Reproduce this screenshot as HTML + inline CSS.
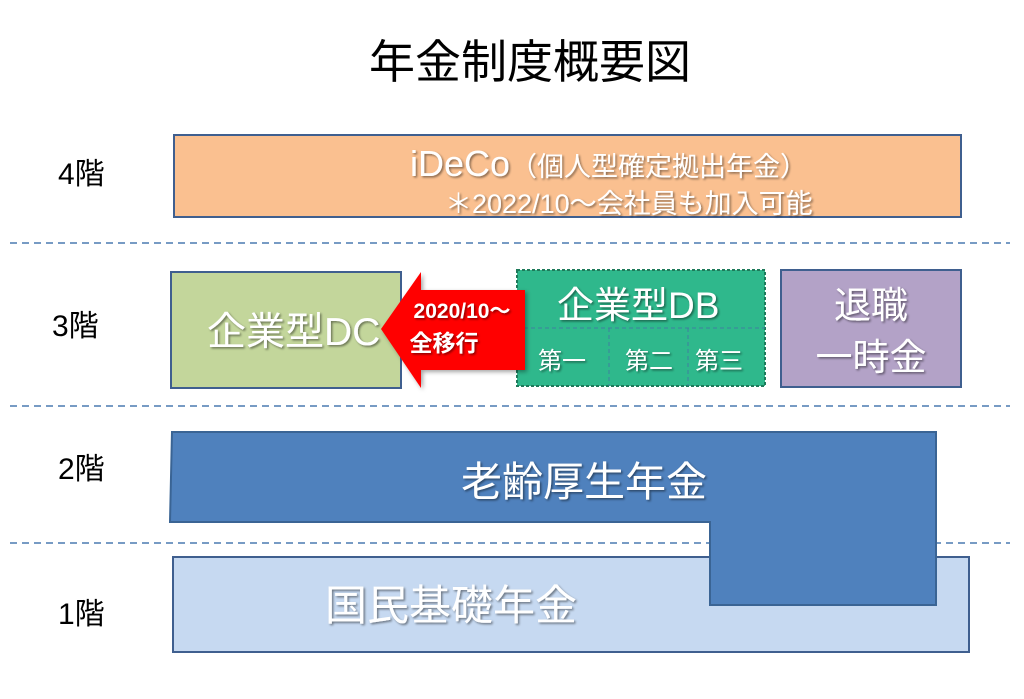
<!DOCTYPE html>
<html><head><meta charset="utf-8"><style>
html,body{margin:0;padding:0;background:#fff;}
svg{display:block;}
text{font-family:"Liberation Sans","Noto Sans CJK JP",sans-serif;}
.w{fill:#fff;filter:url(#sh);}
</style></head><body>
<svg width="1024" height="699" viewBox="0 0 1024 699" xmlns="http://www.w3.org/2000/svg">
<defs>
<filter id="sh" x="-10%" y="-20%" width="130%" height="150%"><feDropShadow dx="1.5" dy="1.5" stdDeviation="1" flood-color="#000" flood-opacity="0.45"/></filter>
<filter id="bs" x="-10%" y="-10%" width="130%" height="130%"><feDropShadow dx="2" dy="2" stdDeviation="2" flood-color="#000" flood-opacity="0.35"/></filter>
</defs>
<text x="530" y="78" font-size="46" text-anchor="middle" fill="#000">年金制度概要図</text>

<g stroke="#4a7ab0" stroke-width="1.5" stroke-dasharray="7,5">
<line x1="10" y1="243" x2="1010" y2="243"/>
<line x1="10" y1="406" x2="1010" y2="406"/>
<line x1="10" y1="543" x2="1010" y2="543"/>
</g>

<g font-size="30" fill="#000">
<text x="58" y="184">4階</text>
<text x="52" y="336">3階</text>
<text x="58" y="479">2階</text>
<text x="58" y="624">1階</text>
</g>

<rect x="174" y="135" width="787" height="82" fill="#fac090" stroke="#3f5f8f" stroke-width="2"/>
<text class="w" x="410" y="176" font-size="36">iDeCo<tspan font-size="27">（個人型確定拠出年金）</tspan></text>
<text class="w" x="445" y="213" font-size="27">＊2022/10～会社員も加入可能</text>

<rect x="171" y="272" width="230" height="116" fill="#c3d69b" stroke="#3f5f8f" stroke-width="2"/>
<text class="w" x="207" y="345" font-size="39">企業型DC</text>

<rect x="517" y="270" width="248" height="116" fill="#2fb88c" stroke="#1e7a5a" stroke-width="2" stroke-dasharray="3,2"/>
<line x1="517" y1="328" x2="765" y2="328" stroke="#3f7fa0" stroke-width="1" stroke-dasharray="4,3"/>
<line x1="609" y1="328" x2="609" y2="386" stroke="#3f7fa0" stroke-width="1" stroke-dasharray="4,3"/>
<line x1="688" y1="328" x2="688" y2="386" stroke="#3f7fa0" stroke-width="1" stroke-dasharray="4,3"/>
<text class="w" x="557" y="318" font-size="37">企業型DB</text>
<text class="w" x="538" y="369" font-size="24">第一</text>
<text class="w" x="625" y="369" font-size="24">第二</text>
<text class="w" x="695" y="369" font-size="24">第三</text>

<polygon points="381,329 421,272 421,290 525,290 525,370 421,370 421,388" fill="#ff0000" filter="url(#bs)"/>
<text class="w" x="462" y="318" font-size="21" font-weight="bold" text-anchor="middle">2020/10～</text>
<text class="w" x="444" y="351" font-size="23" font-weight="bold" text-anchor="middle">全移行</text>

<rect x="781" y="270" width="180" height="117" fill="#b3a2c7" stroke="#3f5f8f" stroke-width="2"/>
<text class="w" x="871" y="318" font-size="37" text-anchor="middle">退職</text>
<text class="w" x="871" y="370" font-size="37" text-anchor="middle">一時金</text>

<rect x="173" y="557" width="796" height="95" fill="#c6d9f1" stroke="#3f5f8f" stroke-width="2"/>
<text class="w" x="325" y="620" font-size="42">国民基礎年金</text>

<polygon points="172,432 936,432 936,605 710,605 710,522 170,522" fill="#4f81bd" stroke="#3a6494" stroke-width="2"/>
<text class="w" x="584" y="496" font-size="41" text-anchor="middle">老齢厚生年金</text>
</svg>
</body></html>
